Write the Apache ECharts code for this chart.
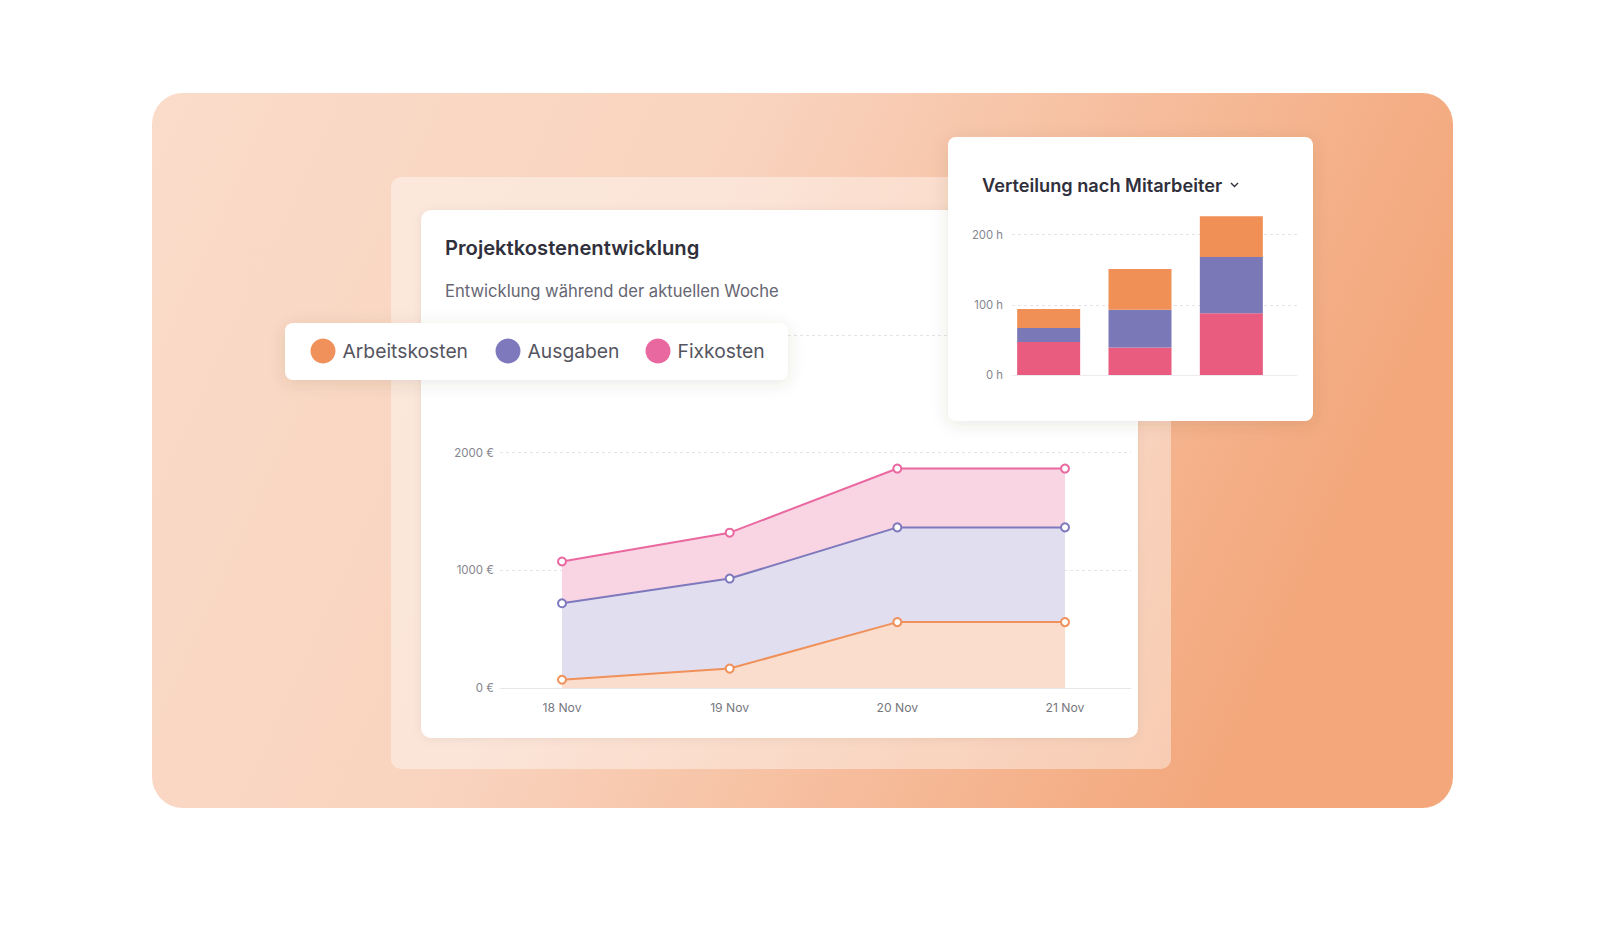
<!DOCTYPE html>
<html>
<head>
<meta charset="utf-8">
<script src="https://cdn.jsdelivr.net/npm/echarts@6/dist/echarts.min.js"></script>
<style>
  html, body { margin: 0; padding: 0; background: #ffffff; }
  #chart { width: 1600px; height: 933px; }
</style>
</head>
<body>
<div id="chart"></div>
<script>
// ---- Data: line chart (Projektkostenentwicklung), stacked values in EUR ----
const days = ['18 Nov', '19 Nov', '20 Nov', '21 Nov'];
const arbeitskosten = [70, 165, 560, 560];
const ausgaben = [650, 765, 805, 805];
const fixkosten = [355, 390, 500, 500];
const euroTicks = [0, 1000, 2000, 3000];

// ---- Data: bar chart (Verteilung nach Mitarbeiter), stacked hours ----
const employees = ['Mitarbeiter 1', 'Mitarbeiter 2', 'Mitarbeiter 3'];
const hoursFix = [47, 39, 88];
const hoursAusgaben = [20, 54, 80];
const hoursArbeit = [27, 58, 58];
const hourTicks = [0, 100, 200];

const FONT = 'Inter, "Noto Sans", sans-serif';
const C_ORANGE = '#F0905A';
const C_PURPLE = '#7E79BD';
const C_PINK = '#EA68A0';
const F_ORANGE = '#FADDCC';
const F_PURPLE = '#E1DEEF';
const F_PINK = '#F9D5E4';
const B_ORANGE = '#F08F56';
const B_PURPLE = '#7B78B7';
const B_PINK = '#E95C80';

const chart = echarts.init(document.getElementById('chart'), null, { renderer: 'svg' });

function legendItem(name, left) {
  return {
    data: [{ name: name, icon: 'circle' }],
    left: left, top: 338.5,
    padding: 0,
    itemWidth: 25, itemHeight: 25,
    selectedMode: false,
    z: 6,
    textStyle: { fontFamily: FONT, fontSize: 19.3, color: '#55555f', padding: [0, 0, 0, 2] }
  };
}

const option = {
  animation: false,
  backgroundColor: '#ffffff',
  graphic: [
    { type: 'rect', z: 0, shape: { x: 152, y: 93, width: 1301, height: 715, r: 31 },
      style: { fill: { type: 'linear', x: 0, y: 0, x2: 1, y2: 0.25, colorStops: [
        { offset: 0, color: '#FADCCA' }, { offset: 0.45, color: '#F9D3BE' }, { offset: 1, color: '#F3A77B' } ] } } },
    { type: 'rect', z: 1, shape: { x: 391, y: 177, width: 780, height: 592, r: 10 },
      style: { fill: 'rgba(255,255,255,0.4)' } },
    { type: 'rect', z: 2, shape: { x: 421, y: 210, width: 717, height: 528, r: 10 },
      style: { fill: '#ffffff', shadowBlur: 10, shadowColor: 'rgba(0,0,0,0.06)', shadowOffsetY: 1 } },
    { type: 'text', z: 2, x: 445, y: 247,
      style: { text: 'Projektkostenentwicklung', fill: '#30303c', font: '600 20.2px ' + FONT,
               textAlign: 'left', textVerticalAlign: 'middle', align: 'left', verticalAlign: 'middle' } },
    { type: 'text', z: 2, x: 445, y: 291,
      style: { text: 'Entwicklung während der aktuellen Woche', fill: '#666672', font: '16.6px ' + FONT,
               textAlign: 'left', textVerticalAlign: 'middle', align: 'left', verticalAlign: 'middle' } },
    { type: 'rect', z: 5, shape: { x: 285, y: 323, width: 503, height: 57, r: 8 },
      style: { fill: '#ffffff', shadowBlur: 16, shadowColor: 'rgba(90,60,40,0.13)', shadowOffsetY: 3 } },
    { type: 'rect', z: 7, shape: { x: 948, y: 137, width: 365, height: 284, r: 8 },
      style: { fill: '#ffffff', shadowBlur: 16, shadowColor: 'rgba(90,60,40,0.13)', shadowOffsetY: 3 } },
    { type: 'text', z: 9, x: 982, y: 185,
      style: { text: 'Verteilung nach Mitarbeiter', fill: '#30303c', font: '600 18.2px ' + FONT,
               textAlign: 'left', textVerticalAlign: 'middle', align: 'left', verticalAlign: 'middle' } },
    { type: 'polyline', z: 9, shape: { points: [[1231, 183], [1234.5, 186.5], [1238, 183]] },
      style: { stroke: '#30303c', lineWidth: 1.4, fill: null } }
  ],
  legend: [
    legendItem('Arbeitskosten', 310.5),
    legendItem('Ausgaben', 495.5),
    legendItem('Fixkosten', 645.5)
  ],
  grid: [
    { left: 500, right: 469, top: 335, bottom: 245 },   // line chart gridlines
    { left: 562, right: 535, top: 335, bottom: 245 },   // line chart series
    { left: 1012, right: 303, top: 234.5, bottom: 558 }, // bar chart gridlines
    { left: 1003, right: 323, top: 234.5, bottom: 558 }  // bar chart series
  ],
  xAxis: [
    { gridIndex: 0, type: 'category', data: days, z: 3,
      axisLine: { show: true, lineStyle: { color: '#e8e8ec', width: 1 } },
      axisTick: { show: false }, axisLabel: { show: false }, splitLine: { show: false } },
    { gridIndex: 1, type: 'category', data: days, boundaryGap: false, z: 3,
      axisLine: { show: false }, axisTick: { show: false }, splitLine: { show: false },
      axisLabel: { color: '#777780', fontSize: 12.2, fontFamily: FONT, margin: 13 } },
    { gridIndex: 2, type: 'category', data: employees, z: 8,
      axisLine: { show: true, lineStyle: { color: '#ececf0', width: 1 } },
      axisTick: { show: false }, axisLabel: { show: false }, splitLine: { show: false } },
    { gridIndex: 3, type: 'category', data: employees, z: 8, show: false }
  ],
  yAxis: [
    { gridIndex: 0, type: 'value', min: euroTicks[0], max: euroTicks[euroTicks.length - 1], interval: 1000, z: 3,
      axisLine: { show: false }, axisTick: { show: false },
      axisLabel: { formatter: function (v) { return v + ' €'; }, color: '#85858e', fontSize: 11.5, fontFamily: FONT, margin: 6 },
      splitLine: { show: true, lineStyle: { color: '#e3e3e8', type: [3, 3], width: 1 } } },
    { gridIndex: 1, type: 'value', min: euroTicks[0], max: euroTicks[euroTicks.length - 1], show: false,
      splitLine: { show: false } },
    { gridIndex: 2, type: 'value', min: hourTicks[0], max: hourTicks[hourTicks.length - 1], interval: 100, z: 8,
      axisLine: { show: false }, axisTick: { show: false },
      axisLabel: { formatter: function (v) { return v + ' h'; }, color: '#85858e', fontSize: 11.3, fontFamily: FONT, margin: 9 },
      splitLine: { show: true, lineStyle: { color: '#e3e3e8', type: [3, 3], width: 1 } } },
    { gridIndex: 3, type: 'value', min: hourTicks[0], max: hourTicks[hourTicks.length - 1], show: false,
      splitLine: { show: false } }
  ],
  series: [
    { name: 'Arbeitskosten', type: 'line', xAxisIndex: 1, yAxisIndex: 1, stack: 'kosten', z: 4,
      data: arbeitskosten, symbol: 'emptyCircle', symbolSize: 8, showSymbol: true,
      color: C_ORANGE, itemStyle: { color: C_ORANGE, borderWidth: 2 },
      lineStyle: { color: C_ORANGE, width: 2 }, areaStyle: { color: F_ORANGE, opacity: 1 } },
    { name: 'Ausgaben', type: 'line', xAxisIndex: 1, yAxisIndex: 1, stack: 'kosten', z: 4,
      data: ausgaben, symbol: 'emptyCircle', symbolSize: 8, showSymbol: true,
      color: C_PURPLE, itemStyle: { color: C_PURPLE, borderWidth: 2 },
      lineStyle: { color: C_PURPLE, width: 2 }, areaStyle: { color: F_PURPLE, opacity: 1 } },
    { name: 'Fixkosten', type: 'line', xAxisIndex: 1, yAxisIndex: 1, stack: 'kosten', z: 4,
      data: fixkosten, symbol: 'emptyCircle', symbolSize: 8, showSymbol: true,
      color: C_PINK, itemStyle: { color: C_PINK, borderWidth: 2 },
      lineStyle: { color: C_PINK, width: 2 }, areaStyle: { color: F_PINK, opacity: 1 } },
    { name: 'Fixkosten (h)', type: 'bar', xAxisIndex: 3, yAxisIndex: 3, stack: 'stunden', z: 9,
      data: hoursFix, barWidth: 63, clip: false, itemStyle: { color: B_PINK } },
    { name: 'Ausgaben (h)', type: 'bar', xAxisIndex: 3, yAxisIndex: 3, stack: 'stunden', z: 9,
      data: hoursAusgaben, barWidth: 63, clip: false, itemStyle: { color: B_PURPLE } },
    { name: 'Arbeitskosten (h)', type: 'bar', xAxisIndex: 3, yAxisIndex: 3, stack: 'stunden', z: 9,
      data: hoursArbeit, barWidth: 63, clip: false, itemStyle: { color: B_ORANGE } }
  ]
};

chart.setOption(option);
</script>
</body>
</html>
